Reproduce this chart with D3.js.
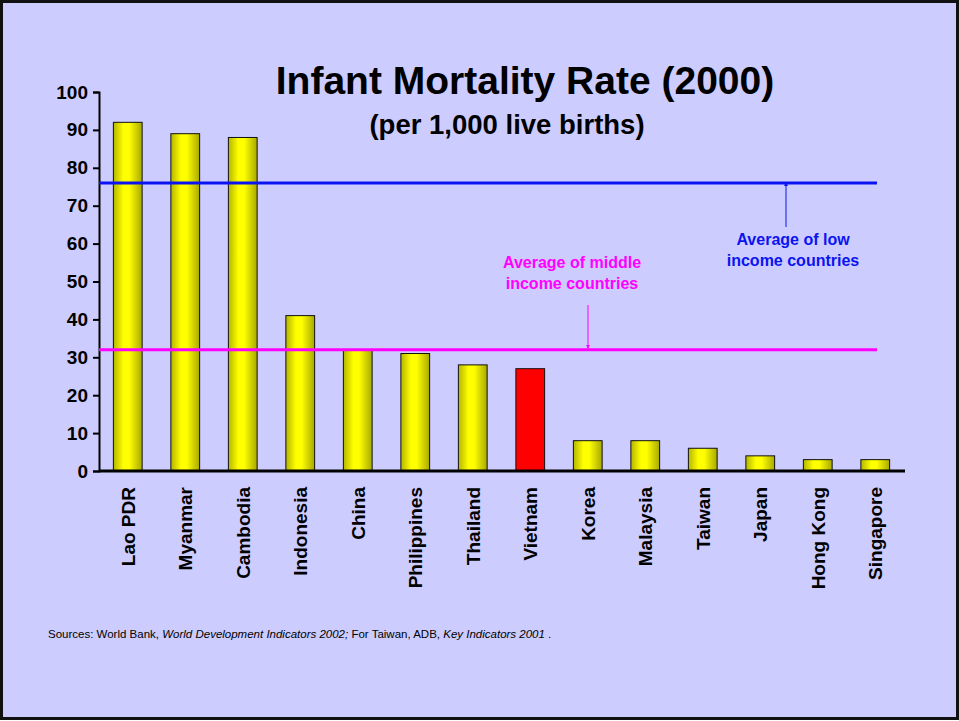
<!DOCTYPE html>
<html>
<head>
<meta charset="utf-8">
<script src="https://cdn.jsdelivr.net/npm/d3@7"></script>
<style>
  body { margin: 0; background: #fff; }
  svg { display: block; font-family: Arial, "Liberation Sans", sans-serif; }
</style>
</head>
<body>
<div id="chart"></div>
<script>
// Chart data
const countries = ["Lao PDR", "Myanmar", "Cambodia", "Indonesia", "China", "Philippines", "Thailand",
                   "Vietnam", "Korea", "Malaysia", "Taiwan", "Japan", "Hong Kong", "Singapore"];
const rates = [92, 89, 88, 41, 32, 31, 28, 27, 8, 8, 6, 4, 3, 3];
const highlighted = ["Vietnam"];
const yTicks = [0, 10, 20, 30, 40, 50, 60, 70, 80, 90, 100];
const lowIncomeAvg = 76;
const middleIncomeAvg = 32;

function init() {
    const width = 959, height = 721;
    const margin = {left: 99, right: 54, top: 92, bottom: 250};

    const svg = d3.select("#chart")
                  .append("svg")
                  .attr("width", width)
                  .attr("height", height);

    // Background with dark frame
    svg.append("rect")
       .attr("x", 1.5).attr("y", 1.5)
       .attr("width", width - 3).attr("height", height - 4)
       .attr("fill", "#ccccff")
       .attr("stroke", "#111")
       .attr("stroke-width", 3);

    // Bar gradient (cylinder-like look)
    const defs = svg.append("defs");
    const grad = defs.append("linearGradient").attr("id", "barGrad")
                     .attr("x1", "0%").attr("x2", "100%").attr("y1", "0%").attr("y2", "0%");
    grad.append("stop").attr("offset", "0%").attr("stop-color", "#b5b500");
    grad.append("stop").attr("offset", "35%").attr("stop-color", "#ffff00");
    grad.append("stop").attr("offset", "55%").attr("stop-color", "#ffff00");
    grad.append("stop").attr("offset", "100%").attr("stop-color", "#a8a800");

    const x = d3.scaleBand()
                .domain(countries)
                .range([margin.left, width - margin.right - 1])
                .paddingInner(0.5)
                .paddingOuter(0.25);

    const y = d3.scaleLinear()
                .domain([0, 100])
                .range([height - margin.bottom, margin.top]);

    // Bars
    svg.selectAll(".bar")
       .data(countries)
       .enter()
       .append("rect")
       .attr("class", "bar")
       .attr("x", d => x(d))
       .attr("y", (d, i) => y(rates[i]))
       .attr("width", x.bandwidth())
       .attr("height", (d, i) => y(0) - y(rates[i]))
       .attr("fill", d => highlighted.includes(d) ? "#ff0000" : "url(#barGrad)")
       .attr("stroke", "#111")
       .attr("stroke-width", 1);

    // Y axis
    const yAxis = svg.append("g")
                     .attr("transform", `translate(${margin.left},0)`)
                     .call(d3.axisLeft(y).tickValues(yTicks).tickSize(6).tickPadding(5));
    yAxis.select(".domain").attr("stroke", "#000").attr("stroke-width", 2);
    yAxis.selectAll(".tick line").attr("stroke", "#000").attr("stroke-width", 2);
    yAxis.selectAll(".tick text")
         .attr("fill", "#000")
         .style("font-size", "19px")
         .style("font-weight", "bold");

    // X axis
    const xAxis = svg.append("g")
                     .attr("transform", `translate(0,${y(0)})`)
                     .call(d3.axisBottom(x).tickSize(0).tickPadding(0));
    xAxis.select(".domain")
         .attr("d", `M${margin.left},0H${width - margin.right}`)
         .attr("stroke", "#000").attr("stroke-width", 3);
    xAxis.selectAll(".tick text")
         .attr("fill", "#000")
         .attr("transform", "rotate(-90)")
         .attr("x", -16)
         .attr("y", 0)
         .attr("dy", "0.36em")
         .attr("text-anchor", "end")
         .style("font-size", "19px")
         .style("font-weight", "bold");

    // Average lines
    const lineEnd = 877;
    const averages = [
        {value: lowIncomeAvg, color: "#0a14f0", labels: ["Average of low", "income countries"], lx: 793, ly: 245, ax: 786, arrowFrom: 227},
        {value: middleIncomeAvg, color: "#ff00ff", labels: ["Average of middle", "income countries"], lx: 572, ly: 268, ax: 588, arrowFrom: 305}
    ];

    averages.forEach((a, k) => {
        defs.append("marker")
            .attr("id", "arrow" + k)
            .attr("viewBox", "0 0 10 10")
            .attr("refX", 10).attr("refY", 5)
            .attr("markerWidth", 4).attr("markerHeight", 4)
            .attr("orient", "auto")
            .append("path")
            .attr("d", "M0,0L10,5L0,10z")
            .attr("fill", a.color);

        svg.append("line")
           .attr("x1", margin.left).attr("x2", lineEnd)
           .attr("y1", y(a.value)).attr("y2", y(a.value))
           .attr("stroke", a.color)
           .attr("stroke-width", 3);

        svg.append("line")
           .attr("x1", a.ax).attr("x2", a.ax)
           .attr("y1", a.arrowFrom).attr("y2", y(a.value) - 1)
           .attr("stroke", a.color)
           .attr("stroke-width", 1)
           .attr("marker-end", `url(#arrow${k})`);

        svg.append("text")
           .attr("x", a.lx)
           .attr("y", a.ly)
           .attr("text-anchor", "middle")
           .attr("fill", a.color)
           .style("font-size", "16px")
           .style("font-weight", "bold")
           .selectAll("tspan")
           .data(a.labels)
           .enter()
           .append("tspan")
           .attr("x", a.lx)
           .attr("dy", (d, i) => i === 0 ? 0 : 21)
           .text(d => d);
    });

    // Titles
    svg.append("text")
       .attr("x", 525).attr("y", 94)
       .attr("text-anchor", "middle")
       .style("font-size", "39px")
       .style("font-weight", "bold")
       .text("Infant Mortality Rate (2000)");

    svg.append("text")
       .attr("x", 507).attr("y", 134)
       .attr("text-anchor", "middle")
       .style("font-size", "27.5px")
       .style("font-weight", "bold")
       .text("(per 1,000 live births)");

    // Source note
    const src = svg.append("text")
                   .attr("x", 48).attr("y", 638)
                   .style("font-size", "11.5px")
                   .attr("fill", "#000");
    src.append("tspan").text("Sources: World Bank, ");
    src.append("tspan").style("font-style", "italic").text("World Development Indicators 2002;");
    src.append("tspan").text(" For Taiwan, ADB, ");
    src.append("tspan").style("font-style", "italic").text("Key Indicators 2001");
    src.append("tspan").text(" .");
}

init();
</script>
</body>
</html>
